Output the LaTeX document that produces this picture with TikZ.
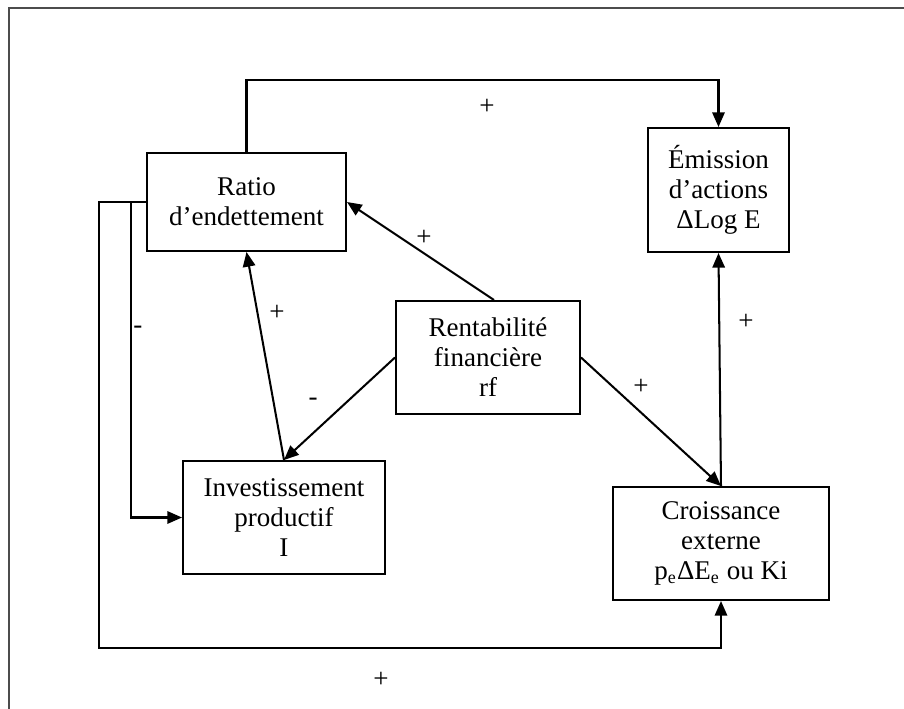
\documentclass[tikz,border=0pt]{standalone}
\usepackage{fontspec}
\setmainfont{Liberation Serif}
\usetikzlibrary{arrows.meta}
\begin{document}
\begin{tikzpicture}[
   x=0.444pt,y=-0.444pt,
   box/.style={draw,line width=0.9pt,align=center,inner sep=0pt},
   arr/.style={line width=0.9pt,-{Triangle[length=6.5pt,width=5.5pt]}},
   every node/.style={font=\fontsize{12}{13.3}\selectfont}
 ]
  \useasboundingbox (0,0) rectangle (904,709);
  \draw[gray!60!black,line width=0.7pt] (904,8) -- (9,8) -- (9,709);

  \node[box,minimum width=199*0.444pt,minimum height=98*0.444pt] (ratio) at (246.5,202) {Ratio\\d’endettement};
  \node[box,minimum width=141*0.444pt,minimum height=124*0.444pt] (emission) at (718.5,190) {Émission\\d’actions\\ΔLog E};
  \node[box,minimum width=184*0.444pt,minimum height=113*0.444pt] (rent) at (488,357.5) {Rentabilité\\financière\\rf};
  \node[box,minimum width=202*0.444pt,minimum height=113*0.444pt] (invest) at (284,517.5) {Investissement\\productif\\I};
  \node[box,minimum width=216*0.444pt,minimum height=113*0.444pt] (croiss) at (721,543.5) {Croissance\\externe\\p\textsubscript{e}ΔE\textsubscript{e} ou Ki};

  \coordinate (topline) at (480,80);
  \coordinate (botline) at (99,648);
  \coordinate (branch) at (131,202);

  \draw[arr] (ratio.north) |- (topline) -| (emission.north);
  \draw[arr] (ratio.west) -| (botline) -| (croiss.south);
  \draw[arr] (branch) |- (invest.west);
  \draw[arr] (rent.north west) ++(99,0) coordinate (rtop) -- (ratio.east);
  \draw[arr] (invest.north) -- (ratio.south);
  \draw[arr] (rent.west) -- (invest.north);
  \draw[arr] (rent.east) -- (croiss.north);
  \draw[arr] (croiss.north) -- (emission.south);

  \foreach \x/\y/\s/\i in {487/107/+/1,424/238/+/2,277/313/+/3,138/330/-/4,
                           313/402/-/5,641/387/+/6,746/322/+/7,381/680/+/8}
    \node (lab\i) at (\x,\y) {\s};
\end{tikzpicture}
\end{document}
